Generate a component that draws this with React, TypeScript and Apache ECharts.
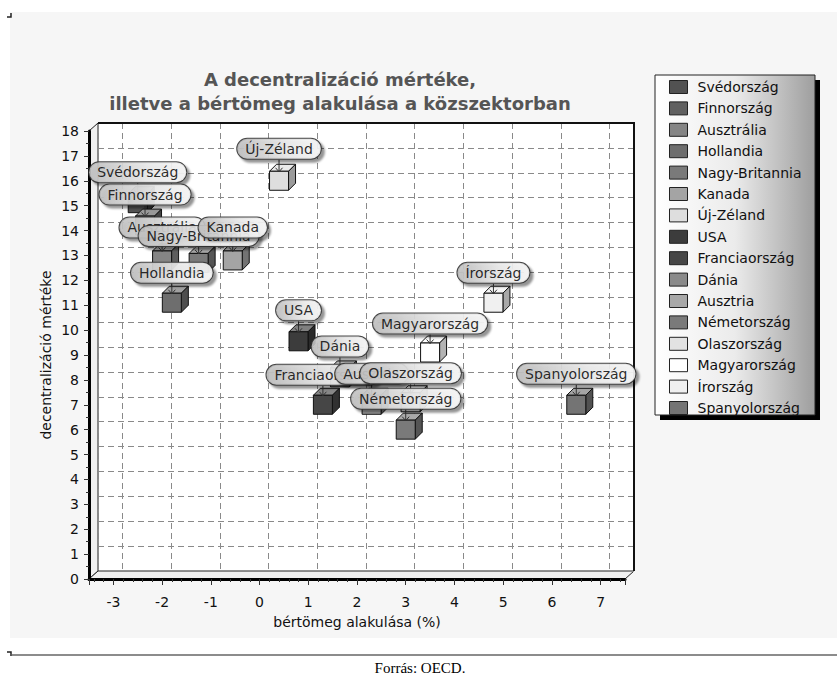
import React, { useEffect, useRef } from "react";
import * as echarts from "echarts";

// ---- data ----
const countries = [
  "Svédország", "Finnország", "Ausztrália", "Hollandia", "Nagy-Britannia", "Kanada",
  "Új-Zéland", "USA", "Franciaország", "Dánia", "Ausztria", "Németország",
  "Olaszország", "Magyarország", "Írország", "Spanyolország",
];
const wageGrowth = [-2.5, -2.35, -2.0, -1.8, -1.25, -0.55, 0.4, 0.8, 1.3, 1.65, 2.3, 3.0, 3.1, 3.5, 4.8, 6.5];
const decentralization = [15.1, 14.2, 12.8, 11.1, 12.7, 12.8, 16.0, 9.55, 7.0, 8.1, 7.0, 6.0, 7.1, 9.1, 11.1, 7.0];
const seriesColors = [
  "#525252", "#606060", "#858585", "#6e6e6e", "#7a7a7a", "#a4a4a4",
  "#dedede", "#3c3c3c", "#464646", "#8a8a8a", "#a8a8a8", "#7a7a7a",
  "#e2e2e2", "#ffffff", "#f0f0f0", "#747474",
];
const titleLines = ["A decentralizáció mértéke,", "illetve a bértömeg alakulása a közszektorban"];
const xName = "bértömeg alakulása (%)";
const yName = "decentralizáció mértéke";
const sourceText = "Forrás: OECD.";

// ---- layout (not data) ----
const labelRaise = [31, 31, 33, 30, 27, 33, 32, 31, 30, 31, 31, 31, 29, 29, 30, 31];
const FONT = '"DejaVu Sans", Verdana, sans-serif';
const FRONT = { left: 89, top: 131, width: 536, height: 448 };
const DX = 9;
const DY = -8;

function mix(hex: string, target: string, t: number) {
  const p = (h: string) => [1, 3, 5].map((k) => parseInt(h.slice(k, k + 2), 16));
  const a = p(hex);
  const b = p(target);
  const r = a.map((v, k) => Math.round(v + (b[k] - v) * t));
  return "rgb(" + r.join(",") + ")";
}

function makeRender(i: number) {
  return (params: any, api: any) => {
    const pt = api.coord([api.value(0), api.value(1)]);
    const cx = pt[0];
    const cy = pt[1];
    const c = seriesColors[i];
    const h = 9.5;
    const d = 7;
    const topC = mix(c, "#ffffff", 0.35);
    const sideC = mix(c, "#000000", 0.3);
    const ly = cy - labelRaise[i];
    return {
      type: "group",
      children: [
        {
          type: "polygon",
          z2: 1,
          shape: { points: [[cx - h, cy - h], [cx - h + d, cy - h - d], [cx + h + d, cy - h - d], [cx + h, cy - h]] },
          style: { fill: topC, stroke: "#111", lineWidth: 1 },
        },
        {
          type: "polygon",
          z2: 1,
          shape: { points: [[cx + h, cy - h], [cx + h + d, cy - h - d], [cx + h + d, cy + h - d], [cx + h, cy + h]] },
          style: { fill: sideC, stroke: "#111", lineWidth: 1 },
        },
        {
          type: "rect",
          z2: 1,
          shape: { x: cx - h, y: cy - h, width: 2 * h, height: 2 * h },
          style: { fill: c, stroke: "#111", lineWidth: 1 },
        },
        {
          type: "polyline",
          z2: 60,
          shape: { points: [[cx, ly + 11], [cx, cy - 9]] },
          style: { stroke: "#333", lineWidth: 1, fill: null },
        },
        {
          type: "polyline",
          z2: 60,
          shape: { points: [[cx - 3.5, cy - 13], [cx, cy - 9], [cx + 3.5, cy - 13]] },
          style: { stroke: "#333", lineWidth: 1, fill: null },
        },
        {
          type: "text",
          z2: 100 + i,
          x: cx,
          y: ly,
          style: {
            text: countries[i],
            align: "center",
            verticalAlign: "middle",
            font: "14px " + FONT,
            fill: "#111",
            backgroundColor: new echarts.graphic.LinearGradient(0, 0, 1, 0, [
              { offset: 0, color: "#c0c0c0" },
              { offset: 0.6, color: "#ebebeb" },
              { offset: 1, color: "#f8f8f8" },
            ]),
            borderColor: "#333",
            borderWidth: 1,
            borderRadius: 11,
            padding: [3, 8, 3, 8],
            shadowColor: "rgba(0,0,0,0.45)",
            shadowBlur: 2,
            shadowOffsetX: 3,
            shadowOffsetY: 3,
            opacity: 0.9,
          },
        },
      ],
    };
  };
}

export default function App() {
  const ref = useRef<HTMLDivElement>(null);
  useEffect(() => {
    if (!ref.current) return;
    const chart = echarts.init(ref.current, null, { renderer: "svg" });
    const L = FRONT.left;
    const T = FRONT.top;
    const R = FRONT.left + FRONT.width;
    const B = FRONT.top + FRONT.height;

    const series = countries.map((name, i) => ({
      type: "custom",
      name,
      xAxisIndex: 0,
      yAxisIndex: 0,
      itemStyle: { color: seriesColors[i] },
      data: [[wageGrowth[i], decentralization[i]]],
      encode: { x: 0, y: 1 },
      renderItem: makeRender(i),
      z: 3,
    }));

    const axisText = { fontFamily: FONT, fontSize: 14, color: "#111" };

    const option: any = {
      animation: false,
      color: seriesColors,
      title: {
        text: titleLines.join("\n"),
        left: 335,
        top: 62,
        textAlign: "center",
        textStyle: { fontFamily: FONT, fontSize: 18, fontWeight: "bold", color: "#555", lineHeight: 24 },
      },
      legend: {
        orient: "vertical",
        left: 664,
        top: 75,
        itemWidth: 18,
        itemHeight: 13,
        itemGap: 7.4,
        icon: "rect",
        selectedMode: false,
        data: countries,
        itemStyle: { borderColor: "#222", borderWidth: 1 },
        textStyle: { fontFamily: FONT, fontSize: 14, color: "#111", lineHeight: 14, padding: [0, 0, 0, 5] },
      },
      grid: [
        { left: L, top: T, width: FRONT.width, height: FRONT.height, outerBoundsMode: "none" },
        { left: L + DX, top: T + DY, width: FRONT.width, height: FRONT.height, outerBoundsMode: "none" },
      ],
      xAxis: [
        {
          type: "value",
          gridIndex: 0,
          min: -3.5,
          max: 7.5,
          splitNumber: 11,
          minInterval: 1,
          maxInterval: 1,
          name: xName,
          nameLocation: "middle",
          nameGap: 36,
          nameMoveOverlap: false,
          nameTextStyle: axisText,
          axisLine: { show: true, onZero: false, lineStyle: { color: "#000", width: 3 } },
          axisTick: { show: true, length: 6, lineStyle: { color: "#333" } },
          minorTick: { show: true, splitNumber: 5, length: 3, lineStyle: { color: "#333" } },
          axisLabel: { ...axisText, margin: 16, showMinLabel: false, showMaxLabel: false },
          splitLine: { show: false },
        },
        {
          type: "value",
          gridIndex: 1,
          min: -3.5,
          max: 7.5,
          splitNumber: 11,
          minInterval: 1,
          maxInterval: 1,
          axisLine: { show: false, onZero: false },
          axisTick: { show: false },
          axisLabel: { show: false },
          splitLine: { show: true, lineStyle: { color: "#8a8a8a", width: 1, type: [6, 4] } },
        },
      ],
      yAxis: [
        {
          type: "value",
          gridIndex: 0,
          min: 0,
          max: 18,
          interval: 1,
          name: yName,
          nameLocation: "middle",
          nameGap: 36,
          nameMoveOverlap: false,
          nameTextStyle: axisText,
          axisLine: { show: true, onZero: false, lineStyle: { color: "#000", width: 3 } },
          axisTick: { show: true, length: 5, lineStyle: { color: "#333" } },
          minorTick: { show: true, splitNumber: 2, length: 3, lineStyle: { color: "#333" } },
          axisLabel: { ...axisText, margin: 10 },
          splitLine: { show: false },
        },
        {
          type: "value",
          gridIndex: 1,
          min: 0,
          max: 18,
          interval: 1,
          axisLine: { show: false, onZero: false },
          axisTick: { show: false },
          axisLabel: { show: false },
          splitLine: { show: true, lineStyle: { color: "#8a8a8a", width: 1, type: [6, 4] } },
        },
      ],
      graphic: [
        { type: "rect", z: -10, silent: true, shape: { x: 10, y: 12, width: 827, height: 626 }, style: { fill: "#f6f6f6" } },
        { type: "rect", z: -5, silent: true, shape: { x: L + DX, y: T + DY, width: FRONT.width, height: FRONT.height }, style: { fill: "#ffffff" } },
        {
          type: "polygon", z: -4, silent: true,
          shape: { points: [[L, T], [L + DX, T + DY], [L + DX, B + DY], [L, B]] },
          style: { fill: "#f0f0f0", stroke: "#222", lineWidth: 1 },
        },
        {
          type: "polygon", z: -4, silent: true,
          shape: { points: [[L, B], [L + DX, B + DY], [R + DX, B + DY], [R, B]] },
          style: { fill: "#f0f0f0", stroke: "#222", lineWidth: 1 },
        },
        {
          type: "polyline", z: 1, silent: true,
          shape: { points: [[L + DX, T + DY], [R + DX, T + DY], [R + DX, B + DY]] },
          style: { stroke: "#111", lineWidth: 2, fill: null },
        },
        { type: "rect", z: -1, silent: true, shape: { x: 660, y: 80, width: 160, height: 340 }, style: { fill: "#000" } },
        {
          type: "rect", z: -1, silent: true,
          shape: { x: 655, y: 75, width: 160, height: 340 },
          style: {
            fill: new echarts.graphic.LinearGradient(0, 0, 1, 0, [
              { offset: 0, color: "#ffffff" },
              { offset: 0.5, color: "#ebebeb" },
              { offset: 1, color: "#9e9e9e" },
            ]),
            stroke: "#222",
            lineWidth: 1,
          },
        },
        { type: "polyline", silent: true, shape: { points: [[7, 17], [11, 17], [11, 13]] }, style: { stroke: "#222", lineWidth: 1.5, fill: null } },
        { type: "polyline", silent: true, shape: { points: [[7, 652], [11, 652], [11, 656]] }, style: { stroke: "#222", lineWidth: 1.5, fill: null } },
        { type: "line", silent: true, shape: { x1: 12, y1: 655, x2: 837, y2: 655 }, style: { stroke: "#666", lineWidth: 1.5 } },
        {
          type: "text", silent: true, x: 420, y: 668,
          style: { text: sourceText, align: "center", verticalAlign: "middle", font: '15px "Liberation Serif", "Times New Roman", serif', fill: "#000" },
        },
      ],
      series,
    };
    chart.setOption(option);
    return () => chart.dispose();
  }, []);
  return <div ref={ref} style={{ position: "absolute", left: 0, top: 0, width: 837, height: 678 }} />;
}
